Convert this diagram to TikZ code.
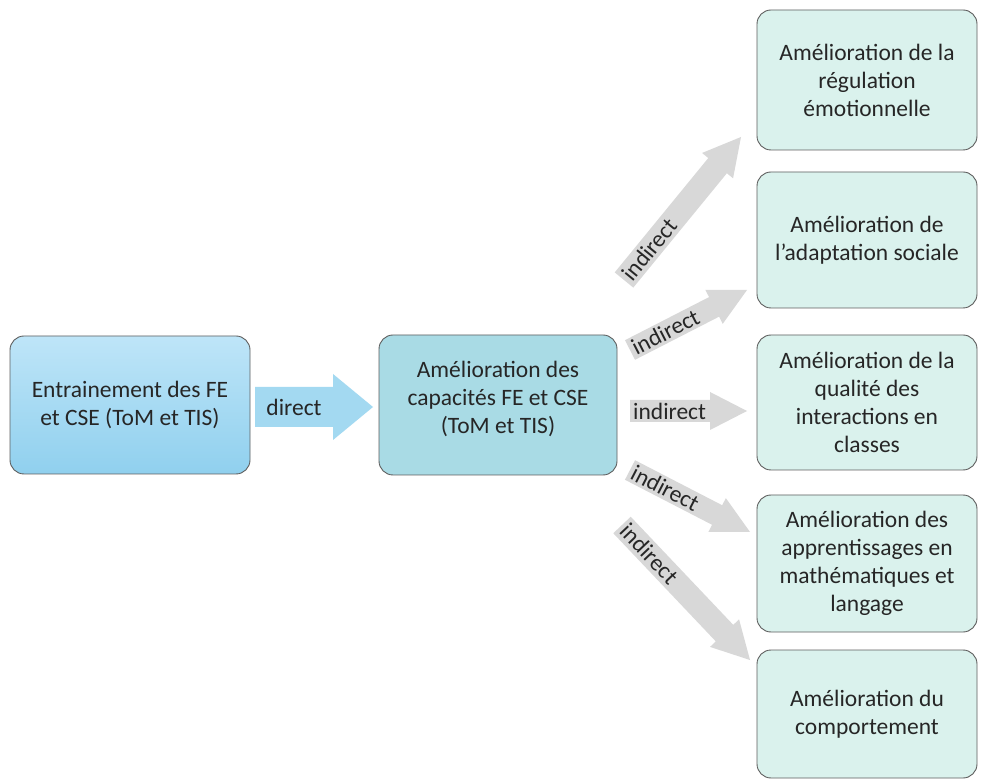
\documentclass[tikz,border=0pt]{standalone}
\usepackage{fontspec}
\setmainfont{Carlito}
\usetikzlibrary{calc}
\definecolor{txt}{HTML}{262626}
\definecolor{bord}{HTML}{5E5E5E}
\definecolor{blueAtop}{HTML}{BEE5F8}
\definecolor{blueAbot}{HTML}{90D0EE}
\definecolor{blueB}{HTML}{A9DBE5}
\definecolor{mint}{HTML}{DAF2ED}
\definecolor{garrow}{HTML}{D8D8D8}
\definecolor{barrow}{HTML}{A3D9F1}
\tikzset{
  box/.style={draw=bord, line width=0.9pt, rounded corners=14pt, align=center,
    text=txt, font=\fontsize{23.5}{28}\selectfont, inner sep=0pt},
  lbox/.style={box, minimum width=240pt, minimum height=138pt, top color=blueAtop, bottom color=blueAbot},
  mbox/.style={box, fill=blueB, minimum width=238pt, minimum height=140pt},
  rbox/.style={box, fill=mint, minimum width=220pt},
  atext/.style={text=txt, font=\fontsize{23.5}{28}\selectfont, inner ysep=0pt, sloped},
  midtext/.style={atext, midway, anchor=center, inner xsep=0pt},
  tailtext/.style={atext, pos=0, anchor=west, inner xsep=3pt},
}
% #1 name, #2 tail, #3 tip, #4 half body, #5 half head, #6 head length, #7 fill, #8 text style, #9 text
\newcommand{\fatarrow}[9]{%
  \coordinate (#1-t) at #2;
  \coordinate (#1-h) at #3;
  \coordinate (#1-b) at ($(#1-h)!#6!(#1-t)$);
  \fill[#7] ($(#1-t)!#4!90:(#1-h)$) -- ($(#1-b)!#4!-90:(#1-t)$) -- ($(#1-b)!#5!-90:(#1-t)$)
     -- (#1-h) -- ($(#1-b)!#5!90:(#1-t)$) -- ($(#1-b)!#4!90:(#1-t)$) -- ($(#1-t)!#4!-90:(#1-h)$) -- cycle;
  \path (#1-t) -- (#1-b) node[#8] (#1) {#9};
}
\begin{document}
\begin{tikzpicture}[x=1pt,y=1pt]
\useasboundingbox (0,0) rectangle (987,782);
\fill[white] (0,0) rectangle (987,782);

\node[lbox] (A) at (130,377) {Entrainement des FE\\et CSE (ToM et TIS)};
\node[mbox] (B) at (498,377) {Amélioration des\\capacités FE et CSE\\(ToM et TIS)\\[-12pt]\mbox{}};

\node[rbox, minimum height=140pt] (R1) at (867,702) {Amélioration de la\\régulation\\émotionnelle};
\node[rbox, minimum height=136pt] (R2) at (867,542) {Amélioration de\\l’adaptation sociale};
\node[rbox, minimum height=135pt] (R3) at (867,379.5) {Amélioration de la\\qualité des\\interactions en\\classes};
\node[rbox, minimum height=137pt] (R4) at (867,218.5) {Amélioration des\\apprentissages en\\mathématiques et\\langage};
\node[rbox, minimum height=128pt] (R5) at (867,68) {Amélioration du\\comportement};

\fatarrow{direct}{(255,375)}{(373,375)}{20pt}{33pt}{40pt}{barrow}{midtext}{direct}
\fatarrow{i1}{(624,502)}{(741,645)}{12pt}{20pt}{37pt}{garrow}{tailtext}{indirect}
\fatarrow{i2}{(630,432)}{(747,492)}{11pt}{19pt}{37pt}{garrow}{tailtext}{indirect}
\fatarrow{i3}{(630,371)}{(747,371)}{11pt}{19pt}{37pt}{garrow}{tailtext}{indirect}
\fatarrow{i4}{(630,312)}{(750,250)}{11pt}{19pt}{37pt}{garrow}{tailtext}{indirect}
\fatarrow{i5}{(622,257)}{(750,122)}{12pt}{20pt}{37pt}{garrow}{tailtext}{indirect}
\end{tikzpicture}
\end{document}
